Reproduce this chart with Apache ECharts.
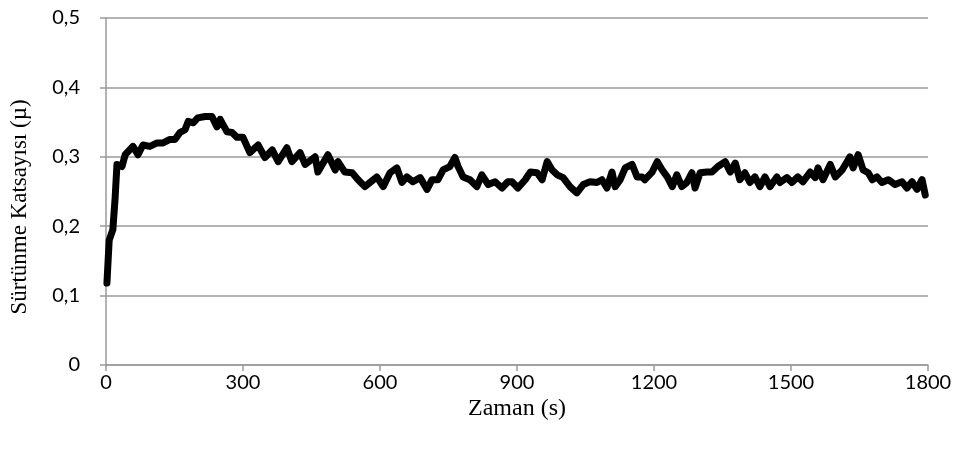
<!DOCTYPE html>
<html><head><meta charset="utf-8">
<script src="https://cdn.jsdelivr.net/npm/echarts@6/dist/echarts.min.js"></script>
<style>html,body{margin:0;padding:0;background:#fff}#c{width:957px;height:449px}</style>
</head><body><div id="c"></div>
<script>
const timeS = [2,7,15,20,24,35,42,59,70,81,96,112,125,140,151,162,173,180,191,201,217,232,243,250,265,276,287,300,315,333,348,364,377,396,407,425,436,458,464,486,502,508,523,539,552,567,578,593,607,622,637,648,659,672,688,703,714,727,738,753,764,771,782,797,812,823,837,852,867,880,889,902,918,929,944,955,966,977,988,1001,1016,1031,1045,1060,1075,1086,1097,1108,1115,1126,1137,1152,1163,1174,1180,1196,1207,1218,1229,1240,1250,1261,1272,1283,1290,1301,1316,1327,1340,1356,1367,1378,1388,1399,1410,1421,1432,1443,1454,1469,1476,1491,1502,1515,1526,1542,1553,1559,1570,1586,1597,1612,1623,1629,1636,1647,1658,1669,1678,1688,1699,1713,1728,1743,1754,1765,1776,1787,1794];
const friction = [0.118,0.180,0.195,0.241,0.289,0.286,0.303,0.315,0.303,0.317,0.315,0.320,0.320,0.325,0.325,0.335,0.339,0.351,0.349,0.356,0.358,0.358,0.343,0.354,0.336,0.335,0.328,0.328,0.306,0.317,0.299,0.310,0.293,0.313,0.293,0.306,0.289,0.300,0.278,0.303,0.281,0.293,0.278,0.277,0.267,0.257,0.263,0.271,0.257,0.277,0.284,0.263,0.271,0.264,0.270,0.253,0.267,0.267,0.281,0.286,0.299,0.286,0.271,0.267,0.257,0.274,0.260,0.264,0.255,0.264,0.264,0.255,0.267,0.278,0.277,0.267,0.293,0.281,0.274,0.270,0.257,0.248,0.260,0.264,0.263,0.267,0.255,0.278,0.257,0.267,0.284,0.289,0.271,0.271,0.267,0.278,0.293,0.281,0.271,0.257,0.274,0.257,0.263,0.277,0.255,0.277,0.278,0.278,0.286,0.293,0.278,0.291,0.267,0.277,0.263,0.271,0.257,0.271,0.257,0.271,0.263,0.270,0.263,0.271,0.264,0.278,0.270,0.284,0.267,0.289,0.271,0.281,0.293,0.300,0.284,0.303,0.281,0.277,0.267,0.271,0.263,0.267,0.260,0.264,0.255,0.264,0.253,0.267,0.245];
const xTitle = 'Zaman (s)';
const yTitle = 'Sürtünme Katsayısı (µ)';

const data = timeS.map((t, i) => [t, friction[i]]);
const chart = echarts.init(document.getElementById('c'), null, {renderer: 'canvas'});
const gray = '#9a9a9a';
chart.setOption({
  animation: false,
  grid: {left: 106, right: 29, top: 18, bottom: 84, containLabel: false},
  graphic: [
    {type: 'text', position: [517, 409],
     style: {text: xTitle, x: 0, y: 0, fontFamily: 'Liberation Serif', fontSize: 24, fill: '#000', textAlign: 'center', textVerticalAlign: 'middle'}},
    {type: 'text', rotation: Math.PI / 2, position: [20, 207],
     style: {text: yTitle, x: 0, y: 0, fontFamily: 'Liberation Serif', fontSize: 23, fill: '#000', textAlign: 'center', textVerticalAlign: 'middle'}}
  ],
  xAxis: {
    type: 'value', min: 0, max: 1800, interval: 300,
    axisLine: {show: true, lineStyle: {color: gray, width: 1.5}},
    axisTick: {show: true, length: 6, lineStyle: {color: gray, width: 1.5}},
    axisLabel: {margin: 8, fontFamily: 'Lato', fontSize: 20, color: '#000', formatter: v => String(v)},
    splitLine: {show: false}
  },
  yAxis: {
    type: 'value', min: 0, max: 0.5, interval: 0.1,
    axisLine: {show: true, lineStyle: {color: gray, width: 1.5}},
    axisTick: {show: true, length: 6, lineStyle: {color: gray, width: 1.5}},
    axisLabel: {margin: 26, fontFamily: 'Lato', fontSize: 20, color: '#000',
      formatter: v => (Math.round(v * 10) / 10).toString().replace('.', ',')},
    splitLine: {show: true, lineStyle: {color: gray, width: 1.5}}
  },
  series: [{
    type: 'line', data: data, showSymbol: false, symbol: 'none',
    lineStyle: {color: '#000', width: 7, join: 'round', cap: 'round'},
    smooth: false
  }]
});
</script></body></html>
